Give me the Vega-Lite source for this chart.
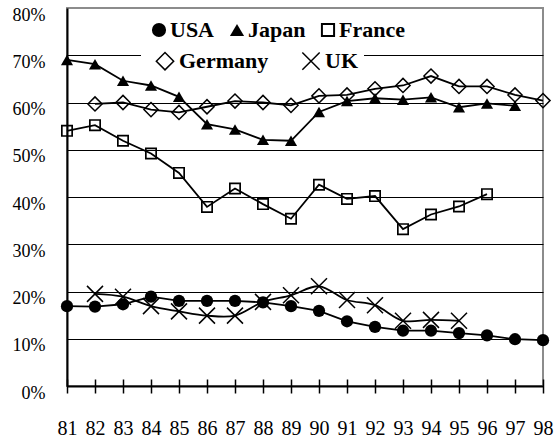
{
  "$schema": "https://vega.github.io/schema/vega-lite/v6.json",
  "width": 476,
  "height": 378,
  "autosize": {"type": "none"},
  "padding": {"left": 67, "top": 8, "right": 14, "bottom": 51},
  "background": "white",
  "config": {"view": {"stroke": "#8c8c8c", "strokeWidth": 2}, "font": "Liberation Serif"},
  "data": {"values": [
    {"country": "USA", "year": 81, "value": 16.9}, {"country": "USA", "year": 82, "value": 16.8}, {"country": "USA", "year": 83, "value": 17.3}, {"country": "USA", "year": 84, "value": 18.9}, {"country": "USA", "year": 85, "value": 18.0}, {"country": "USA", "year": 86, "value": 18.0}, {"country": "USA", "year": 87, "value": 18.0}, {"country": "USA", "year": 88, "value": 17.7}, {"country": "USA", "year": 89, "value": 16.9}, {"country": "USA", "year": 90, "value": 15.9}, {"country": "USA", "year": 91, "value": 13.7}, {"country": "USA", "year": 92, "value": 12.5}, {"country": "USA", "year": 93, "value": 11.7}, {"country": "USA", "year": 94, "value": 11.7}, {"country": "USA", "year": 95, "value": 11.2}, {"country": "USA", "year": 96, "value": 10.7}, {"country": "USA", "year": 97, "value": 9.9}, {"country": "USA", "year": 98, "value": 9.7},
    {"country": "Japan", "year": 81, "value": 69.0}, {"country": "Japan", "year": 82, "value": 68.1}, {"country": "Japan", "year": 83, "value": 64.6}, {"country": "Japan", "year": 84, "value": 63.6}, {"country": "Japan", "year": 85, "value": 61.2}, {"country": "Japan", "year": 86, "value": 55.4}, {"country": "Japan", "year": 87, "value": 54.3}, {"country": "Japan", "year": 88, "value": 52.1}, {"country": "Japan", "year": 89, "value": 51.9}, {"country": "Japan", "year": 90, "value": 58.0}, {"country": "Japan", "year": 91, "value": 60.3}, {"country": "Japan", "year": 92, "value": 60.9}, {"country": "Japan", "year": 93, "value": 60.6}, {"country": "Japan", "year": 94, "value": 61.1}, {"country": "Japan", "year": 95, "value": 59.0}, {"country": "Japan", "year": 96, "value": 59.8}, {"country": "Japan", "year": 97, "value": 59.3},
    {"country": "France", "year": 81, "value": 54.0}, {"country": "France", "year": 82, "value": 55.2}, {"country": "France", "year": 83, "value": 51.9}, {"country": "France", "year": 84, "value": 49.2}, {"country": "France", "year": 85, "value": 45.1}, {"country": "France", "year": 86, "value": 37.9}, {"country": "France", "year": 87, "value": 41.8}, {"country": "France", "year": 88, "value": 38.5}, {"country": "France", "year": 89, "value": 35.4}, {"country": "France", "year": 90, "value": 42.6}, {"country": "France", "year": 91, "value": 39.6}, {"country": "France", "year": 92, "value": 40.2}, {"country": "France", "year": 93, "value": 33.2}, {"country": "France", "year": 94, "value": 36.3}, {"country": "France", "year": 95, "value": 38.0}, {"country": "France", "year": 96, "value": 40.6},
    {"country": "Germany", "year": 82, "value": 59.7}, {"country": "Germany", "year": 83, "value": 60.0}, {"country": "Germany", "year": 84, "value": 58.5}, {"country": "Germany", "year": 85, "value": 57.9}, {"country": "Germany", "year": 86, "value": 59.1}, {"country": "Germany", "year": 87, "value": 60.3}, {"country": "Germany", "year": 88, "value": 60.0}, {"country": "Germany", "year": 89, "value": 59.4}, {"country": "Germany", "year": 90, "value": 61.4}, {"country": "Germany", "year": 91, "value": 61.6}, {"country": "Germany", "year": 92, "value": 62.9}, {"country": "Germany", "year": 93, "value": 63.6}, {"country": "Germany", "year": 94, "value": 65.6}, {"country": "Germany", "year": 95, "value": 63.4}, {"country": "Germany", "year": 96, "value": 63.4}, {"country": "Germany", "year": 97, "value": 61.6}, {"country": "Germany", "year": 98, "value": 60.4},
    {"country": "UK", "year": 82, "value": 19.5}, {"country": "UK", "year": 83, "value": 18.9}, {"country": "UK", "year": 84, "value": 16.9}, {"country": "UK", "year": 85, "value": 15.8}, {"country": "UK", "year": 86, "value": 14.9}, {"country": "UK", "year": 87, "value": 14.9}, {"country": "UK", "year": 88, "value": 17.8}, {"country": "UK", "year": 89, "value": 19.2}, {"country": "UK", "year": 90, "value": 21.1}, {"country": "UK", "year": 91, "value": 18.2}, {"country": "UK", "year": 92, "value": 17.1}, {"country": "UK", "year": 93, "value": 13.8}, {"country": "UK", "year": 94, "value": 14.0}, {"country": "UK", "year": 95, "value": 13.8}
  ]},
  "encoding": {
    "x": {"field": "year", "type": "quantitative",
      "scale": {"domain": [81, 98], "nice": false, "zero": false},
      "axis": {"values": [81,82,83,84,85,86,87,88,89,90,91,92,93,94,95,96,97,98], "title": null, "offset": -7, "tickSize": 14, "tickColor": "black", "tickWidth": 1.5, "domain": false, "grid": false, "labelFontSize": 20, "labelFont": "Liberation Serif", "labelColor": "black", "labelPadding": 25, "labelOverlap": false, "labelFlush": false, "labelBaseline": "top"}},
    "y": {"field": "value", "type": "quantitative",
      "scale": {"domain": [0, 80], "nice": false},
      "axis": {"values": [0,10,20,30,40,50,60,70,80], "title": null, "labelExpr": "datum.value + '%'", "ticks": false, "tickSize": 0, "domain": true, "domainColor": "black", "domainWidth": 2, "grid": true,
        "gridColor": {"condition": {"test": "datum.value == 80", "value": "#8c8c8c"}, "value": "black"},
        "gridWidth": {"condition": {"test": "datum.value == 0", "value": 2}, "value": 1.2},
        "labelFontSize": 18, "labelFont": "Liberation Serif", "labelColor": "black", "labelPadding": 22, "labelOffset": 7, "labelFlush": false}}
  },
  "layer": [
    {"transform": [{"filter": "datum.country != 'UK'"}],
     "mark": {"type": "line", "color": "black", "strokeWidth": 1.8},
     "encoding": {"detail": {"field": "country"}}},
    {"transform": [{"filter": "datum.country == 'UK'"}],
     "mark": {"type": "line", "color": "black", "strokeWidth": 1.8, "interpolate": "catmull-rom"},
     "encoding": {}},
    {"transform": [{"filter": {"field": "country", "oneOf": ["USA", "Japan", "France"]}}],
     "mark": {"type": "point", "filled": true, "color": "black", "opacity": 1},
     "encoding": {
       "shape": {"field": "country", "type": "nominal", "scale": {"domain": ["USA", "Japan", "France"], "range": ["circle", "triangle-up", "M-1,-1H1V1H-1Z M-0.72,-0.72V0.72H0.72V-0.72Z"]},
         "legend": {"orient": "none", "legendX": 77, "legendY": 7, "direction": "horizontal", "title": null, "labelFont": "Liberation Serif", "labelFontSize": 22, "labelFontWeight": "bold", "labelColor": "black", "symbolSize": 200, "symbolFillColor": "black", "symbolStrokeWidth": 0, "columnPadding": 11, "labelOffset": 0, "fillColor": "white", "padding": 4}},
       "size": {"field": "country", "type": "ordinal", "scale": {"domain": ["France", "Japan", "USA"], "range": [144, 150, 175]}, "legend": null}
     }},
    {"transform": [{"filter": {"field": "country", "oneOf": ["Germany", "UK"]}}],
     "mark": {"type": "point", "filled": false, "color": "black", "strokeWidth": 1.5, "opacity": 1},
     "encoding": {
       "shape": {"field": "country", "type": "nominal", "scale": {"domain": ["Germany", "UK"], "range": ["diamond", "M-1,-1L1,1M-1,1L1,-1"]},
         "legend": {"orient": "none", "legendX": 74, "legendY": 36, "direction": "horizontal", "title": " ", "titleOrient": "left", "titleFontSize": 11, "titlePadding": 7, "labelExpr": "datum.label == 'UK' ? 'UK          ' : datum.label", "labelFont": "Liberation Serif", "labelFontSize": 22, "labelFontWeight": "bold", "labelColor": "black", "symbolSize": 300, "symbolStrokeColor": "black", "symbolFillColor": "transparent", "symbolStrokeWidth": 1.5, "columnPadding": 30, "labelOffset": 3, "fillColor": "white", "padding": 6}},
       "size": {"field": "country", "type": "ordinal", "scale": {"domain": ["UK", "Germany"], "range": [256, 200]}, "legend": null}
     }}
  ],
  "resolve": {"scale": {"shape": "independent", "size": "independent", "fill": "independent"}}
}
